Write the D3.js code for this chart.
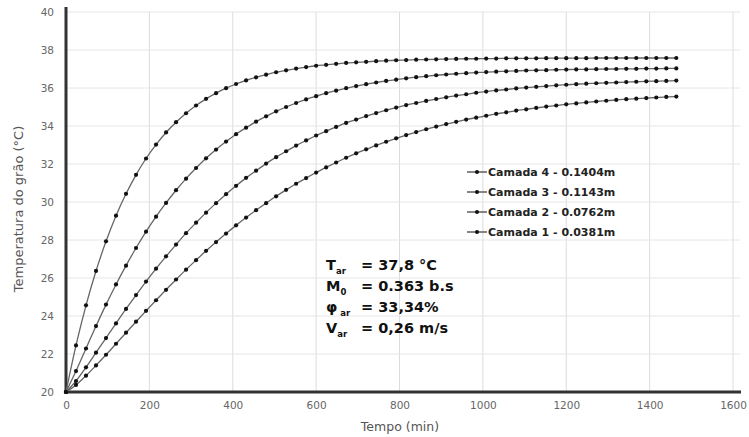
<!DOCTYPE html>
<html><head><meta charset="utf-8">
<script src="https://cdn.jsdelivr.net/npm/d3@7"></script>
<style>
html,body{margin:0;padding:0;background:#fff;}
svg{display:block;}
</style></head>
<body>
<svg id="chart" width="749" height="437"></svg>
<script>
const times = [0,24,48,72,96,120,144,168,192,216,240,264,288,312,336,360,384,408,432,456,480,504,528,552,576,600,624,648,672,696,720,744,768,792,816,840,864,888,912,936,960,984,1008,1032,1056,1080,1104,1128,1152,1176,1200,1224,1248,1272,1296,1320,1344,1368,1392,1416,1440,1464];

const camada4 = [20,22.45,24.56,26.37,27.93,29.28,30.43,31.43,32.29,33.02,33.66,34.20,34.67,35.08,35.43,35.73,35.99,36.21,36.40,36.56,36.70,36.83,36.93,37.02,37.10,37.17,37.22,37.27,37.32,37.35,37.38,37.41,37.44,37.46,37.47,37.49,37.50,37.51,37.52,37.53,37.54,37.54,37.55,37.55,37.56,37.56,37.56,37.56,37.57,37.57,37.57,37.57,37.57,37.58,37.58,37.58,37.58,37.58,37.58,37.58,37.58,37.58];
const camada3 = [20,21.10,22.29,23.47,24.60,25.66,26.65,27.58,28.44,29.23,29.95,30.62,31.23,31.79,32.30,32.76,33.18,33.57,33.91,34.23,34.51,34.77,35.00,35.21,35.40,35.57,35.73,35.86,35.99,36.10,36.20,36.29,36.37,36.44,36.51,36.57,36.62,36.67,36.71,36.75,36.78,36.81,36.84,36.86,36.88,36.90,36.92,36.93,36.94,36.96,36.97,36.98,36.98,36.99,37.00,37.00,37.01,37.01,37.02,37.02,37.03,37.03];
const camada2 = [20,20.58,21.30,22.07,22.84,23.61,24.37,25.10,25.81,26.49,27.14,27.76,28.36,28.91,29.44,29.94,30.41,30.85,31.27,31.65,32.02,32.36,32.67,32.97,33.24,33.50,33.73,33.95,34.16,34.34,34.52,34.68,34.83,34.97,35.10,35.21,35.32,35.42,35.51,35.60,35.67,35.75,35.81,35.87,35.92,35.98,36.02,36.06,36.10,36.14,36.17,36.20,36.23,36.25,36.27,36.29,36.31,36.33,36.35,36.36,36.37,36.39];
const camada1 = [20,20.37,20.86,21.40,21.96,22.54,23.12,23.70,24.27,24.83,25.38,25.92,26.44,26.94,27.43,27.89,28.34,28.77,29.18,29.57,29.94,30.30,30.64,30.96,31.26,31.55,31.82,32.08,32.33,32.56,32.77,32.98,33.17,33.35,33.52,33.68,33.83,33.97,34.10,34.22,34.34,34.44,34.54,34.64,34.72,34.81,34.88,34.95,35.02,35.08,35.14,35.19,35.24,35.29,35.33,35.37,35.41,35.44,35.47,35.50,35.53,35.55];

const seriesNames = ["Camada 4 - 0.1404m","Camada 3 - 0.1143m","Camada 2 - 0.0762m","Camada 1 - 0.0381m"];
const seriesValues = [camada4, camada3, camada2, camada1];
const xTicks = [0,200,400,600,800,1000,1200,1400,1600];
const yTicks = [20,22,24,26,28,30,32,34,36,38,40];

const FONT = "DejaVu Sans, Verdana, sans-serif";
const svg = d3.select("#chart");
const x = d3.scaleLinear().domain([0,1600]).range([66,733]);
const y = d3.scaleLinear().domain([20,40]).range([392,12]);

// grid
const grid = svg.append("g");
grid.selectAll("line.v").data(xTicks.slice(1)).enter().append("line")
  .attr("x1",d=>x(d)).attr("x2",d=>x(d)).attr("y1",y(40)).attr("y2",y(20))
  .attr("stroke","#dcdcdc").attr("stroke-width",1);
grid.selectAll("line.h").data(yTicks.slice(1)).enter().append("line")
  .attr("x1",x(0)).attr("x2",740).attr("y1",d=>y(d)).attr("y2",d=>y(d))
  .attr("stroke","#e6e6e6").attr("stroke-width",1);

// axes
const xAxis = d3.axisBottom(x).tickValues(xTicks).tickSize(0).tickPadding(10)
  .tickFormat(d=>String(d));
const gx = svg.append("g").attr("transform",`translate(0,${y(20)})`).call(xAxis);
gx.select(".domain").remove();
gx.selectAll("text").attr("fill","#666").style("font-family",FONT).style("font-size","10.5px");

const yAxis = d3.axisLeft(y).tickValues(yTicks).tickSize(0).tickPadding(12);
const gy = svg.append("g").attr("transform",`translate(${x(0)},0)`).call(yAxis);
gy.select(".domain").remove();
gy.selectAll("text").attr("fill","#666").style("font-family",FONT).style("font-size","10.5px");

svg.append("line").attr("x1",x(0)).attr("x2",x(0)).attr("y1",7).attr("y2",y(20)+1)
  .attr("stroke","#333").attr("stroke-width",3);
svg.append("line").attr("x1",x(0)-1).attr("x2",741).attr("y1",y(20)).attr("y2",y(20))
  .attr("stroke","#333").attr("stroke-width",3);

// axis titles
svg.append("text").attr("x",400).attr("y",431).attr("text-anchor","middle")
  .attr("fill","#555").style("font-family",FONT).style("font-size","12.5px")
  .text("Tempo (min)");
svg.append("text").attr("transform","translate(23,209) rotate(-90)").attr("text-anchor","middle")
  .attr("fill","#555").style("font-family",FONT).style("font-size","13px")
  .text("Temperatura do grão (°C)");

// series
const line = d3.line().x((d,i)=>x(times[i])).y(d=>y(d)).curve(d3.curveMonotoneX);
seriesValues.forEach(vals=>{
  svg.append("path").datum(vals).attr("d",line).attr("fill","none")
    .attr("stroke","#666").attr("stroke-width",1.3);
  svg.append("g").selectAll("circle").data(vals).enter().append("circle")
    .attr("cx",(d,i)=>x(times[i])).attr("cy",d=>y(d)).attr("r",2.1).attr("fill","#111");
});

// legend
const leg = svg.append("g");
seriesNames.forEach((n,i)=>{
  const yy = 172 + i*20;
  leg.append("line").attr("x1",467).attr("x2",487).attr("y1",yy).attr("y2",yy)
    .attr("stroke","#444").attr("stroke-width",1.3);
  leg.append("circle").attr("cx",477).attr("cy",yy).attr("r",2).attr("fill","#111");
  leg.append("text").attr("x",488).attr("y",yy+4).attr("fill","#222")
    .style("font-family",FONT).style("font-size","11px").style("font-weight","bold")
    .text(n);
});

// parameters
const params = [
  {sym:"T", sub:"ar", val:"= 37,8 °C"},
  {sym:"M", sub:"0", val:"= 0.363 b.s"},
  {sym:"φ", sub:" ar", val:"= 33,34%"},
  {sym:"V", sub:"ar", val:"= 0,26 m/s"}
];
const pg = svg.append("g").style("font-family",FONT).style("font-weight","bold").attr("fill","#111");
params.forEach((p,i)=>{
  const yy = 270 + i*21;
  const t = pg.append("text").attr("x",326).attr("y",yy).style("font-size","14.5px");
  t.append("tspan").text(p.sym);
  t.append("tspan").attr("dy",4).style("font-size","8.5px").text(p.sub);
  pg.append("text").attr("x",361).attr("y",yy).style("font-size","14.5px").text(p.val);
});
</script>
</body></html>
